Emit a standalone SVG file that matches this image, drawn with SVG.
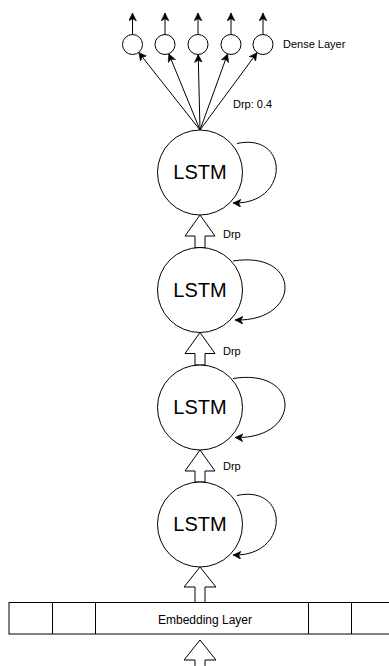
<svg xmlns="http://www.w3.org/2000/svg" width="389" height="666" viewBox="0 0 389 666">
<style>
.nd{fill:#fff;stroke:#000;stroke-width:1}
.ln{fill:none;stroke:#000;stroke-width:1}
.bk{fill:#fff;stroke:#000;stroke-width:1}
.t{font-family:"Liberation Sans",Arial,sans-serif;fill:#000}
.big{font-size:20px;text-anchor:middle}
.sm{font-size:11px}
</style>
<defs>
<marker id="ar" markerUnits="userSpaceOnUse" markerWidth="10" markerHeight="10" refX="8" refY="4" orient="auto">
<path d="M0,0 L8,4 L0,8 L2.2,4 z" fill="#000" stroke="#000" stroke-width="0.5"/>
</marker>
</defs>
<rect width="389" height="666" fill="#fff"/>
<g id="connectors">
<line class="ln" x1="200" y1="130" x2="138.7" y2="52.4" marker-end="url(#ar)"/>
<line class="ln" x1="200" y1="130" x2="168.8" y2="53.8" marker-end="url(#ar)"/>
<line class="ln" x1="200" y1="130" x2="198.2" y2="54.5" marker-end="url(#ar)"/>
<line class="ln" x1="200" y1="130" x2="227.6" y2="53.9" marker-end="url(#ar)"/>
<line class="ln" x1="200" y1="130" x2="257.1" y2="52.6" marker-end="url(#ar)"/>
<line class="ln" x1="132.5" y1="34.5" x2="132.5" y2="13" marker-end="url(#ar)"/>
<line class="ln" x1="165" y1="34.5" x2="165" y2="13" marker-end="url(#ar)"/>
<line class="ln" x1="198" y1="34.5" x2="198" y2="13" marker-end="url(#ar)"/>
<line class="ln" x1="231" y1="34.5" x2="231" y2="13" marker-end="url(#ar)"/>
<line class="ln" x1="263" y1="34.5" x2="263" y2="13" marker-end="url(#ar)"/>
<path class="ln" d="M237,143.5 C290,132 290,205 233,203" marker-end="url(#ar)"/>
<path class="ln" d="M233,261 C302,250 302,322 235,320" marker-end="url(#ar)"/>
<path class="ln" d="M233,378.5 C302,367.5 302,439.5 235,437.5" marker-end="url(#ar)"/>
<path class="ln" d="M237,495.5 C290,484 290,557 233,555" marker-end="url(#ar)"/>
<polygon class="bk" points="200,215 215,236 205,236 205,247.5 195,247.5 195,236 185,236"/>
<polygon class="bk" points="200,332.5 215,353.5 205,353.5 205,365 195,365 195,353.5 185,353.5"/>
<polygon class="bk" points="200,450 215,471 205,471 205,482 195,482 195,471 185,471"/>
<polygon class="bk" points="200,567 216,587 205,587 205,602.5 195,602.5 195,587 184,587"/>
<polygon class="bk" points="200,640 216,660 205,660 205,670 195,670 195,660 184,660"/>
</g>
<g id="dense1"><circle class="nd" cx="132.5" cy="44.5" r="10"/></g>
<g id="dense2"><circle class="nd" cx="165" cy="44.5" r="10"/></g>
<g id="dense3"><circle class="nd" cx="198" cy="44.5" r="10"/></g>
<g id="dense4"><circle class="nd" cx="231" cy="44.5" r="10"/></g>
<g id="dense5"><circle class="nd" cx="263" cy="44.5" r="10"/></g>
<g id="dense-label"><text class="t sm" x="283" y="48">Dense Layer</text></g>
<g id="drp-04"><text class="t sm" x="233" y="108">Drp: 0.4</text></g>
<g id="lstm1"><circle class="nd" cx="200" cy="172.5" r="42.5"/><text class="t big" x="200" y="179">LSTM</text></g>
<g id="lstm2"><circle class="nd" cx="200" cy="290" r="42.5"/><text class="t big" x="200" y="297">LSTM</text></g>
<g id="lstm3"><circle class="nd" cx="200" cy="407.5" r="42.5"/><text class="t big" x="200" y="414">LSTM</text></g>
<g id="lstm4"><circle class="nd" cx="200" cy="524.5" r="42.5"/><text class="t big" x="200" y="531">LSTM</text></g>
<g id="drp1"><text class="t sm" x="223" y="238">Drp</text></g>
<g id="drp2"><text class="t sm" x="223" y="355">Drp</text></g>
<g id="drp3"><text class="t sm" x="223" y="470">Drp</text></g>
<g id="embedding">
<rect x="9" y="602.5" width="400" height="31.5" fill="#fff" stroke="#000" stroke-width="1"/>
<line class="ln" x1="52.5" y1="602.5" x2="52.5" y2="634"/>
<line class="ln" x1="95.5" y1="602.5" x2="95.5" y2="634"/>
<line class="ln" x1="308.5" y1="602.5" x2="308.5" y2="634"/>
<line class="ln" x1="351.5" y1="602.5" x2="351.5" y2="634"/>
<text class="t" x="205" y="624" font-size="12" text-anchor="middle">Embedding Layer</text>
</g>
</svg>
